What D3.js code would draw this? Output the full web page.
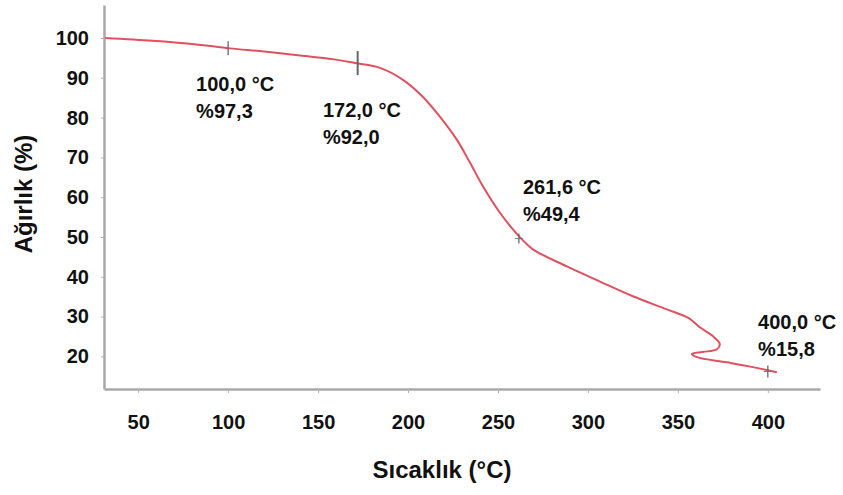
<!DOCTYPE html>
<html>
<head>
<meta charset="utf-8">
<script src="https://cdn.jsdelivr.net/npm/d3@7"></script>
<style>
  body { margin: 0; background: #fff; }
  text { font-family: "Liberation Sans", Arial, sans-serif; font-weight: bold; fill: #111; }
</style>
</head>
<body>
<div id="chart"></div>
<script>
// TGA curve (temperature °C, weight %)
const temps = [31.7, 58, 80, 101, 120, 140, 158, 170.6, 184.4, 197.2, 208.3, 217.8, 227.2, 234.4, 241.7, 251.1, 258.3, 263.3, 269.4, 288.3, 306.7, 325, 343.9, 356, 362.2, 369.4, 373.3, 371.7, 363.9, 357.8, 360.6, 377.2, 391.7, 405];
const weights = [100, 99.3, 98.5, 97.4, 96.6, 95.6, 94.7, 93.7, 92.5, 89.5, 85.2, 80.2, 74.4, 68.7, 62.7, 56.1, 51.9, 49.4, 46.9, 42.6, 38.8, 35.1, 31.8, 29.6, 27.3, 25.1, 23.1, 21.8, 21.1, 20.6, 19.8, 18.5, 17.3, 16.0];

// annotated points
const noteTemps = [100, 172, 261.6, 400];
const noteWeights = [97.4, 93.7, 49.6, 16.2];
const noteLine1 = ['100,0 °C', '172,0 °C', '261,6 °C', '400,0 °C'];
const noteLine2 = ['%97,3', '%92,0', '%49,4', '%15,8'];
const noteAt = [[82.2, 86.6], [152.7, 80.2], [263.9, 60.8], [394.6, 26.9]]; // label anchor (°C, %)

const xTicks = [50, 100, 150, 200, 250, 300, 350, 400];
const yTicks = [20, 30, 40, 50, 60, 70, 80, 90, 100];

const W = 843, H = 495;
const svg = d3.select('#chart').append('svg')
  .attr('width', W).attr('height', H);

const x = d3.scaleLinear().domain([31, 429]).range([104, 820]);
const y = d3.scaleLinear().domain([11.8, 108.3]).range([389, 5]);

// axes
const xAxis = svg.append('g')
  .attr('transform', 'translate(0,389)')
  .call(d3.axisBottom(x).tickValues(xTicks).tickSize(4).tickPadding(22).tickSizeOuter(0));
const yAxis = svg.append('g')
  .attr('transform', 'translate(104,0)')
  .call(d3.axisLeft(y).tickValues(yTicks).tickSize(3).tickPadding(9).tickSizeOuter(0));

[xAxis, yAxis].forEach(function (g) {
  g.select('.domain').attr('stroke', '#a8a8a8').attr('stroke-width', 2.5);
  g.selectAll('.tick line').attr('stroke', '#b0b0b0');
  g.selectAll('.tick text').attr('fill', '#111')
    .style('font-family', '"Liberation Sans", Arial, sans-serif')
    .style('font-weight', 'bold').style('font-size', '20px');
});
yAxis.selectAll('.tick text').attr('dx', '-3');

// curve
const data = temps.map((t, i) => ({ t: t, w: weights[i] }));
svg.append('path')
  .datum(data)
  .attr('fill', 'none')
  .attr('stroke', '#e0505f')
  .attr('stroke-width', 2)
  .attr('stroke-linejoin', 'round')
  .attr('d', d3.line()
    .x(d => x(d.t))
    .y(d => y(d.w))
    .curve(d3.curveCatmullRom.alpha(0.5)));

// markers on the curve
const markLen = [7, 12, 5, 6];
noteTemps.forEach(function (t, i) {
  svg.append('line')
    .attr('x1', x(t)).attr('x2', x(t))
    .attr('y1', y(noteWeights[i]) - markLen[i])
    .attr('y2', y(noteWeights[i]) + markLen[i])
    .attr('stroke', '#666')
    .attr('stroke-width', i === 1 ? 2 : 1.3);
  if (i >= 2) {
    svg.append('line')
      .attr('x1', x(t) - 4).attr('x2', x(t) + 4)
      .attr('y1', y(noteWeights[i])).attr('y2', y(noteWeights[i]))
      .attr('stroke', '#777').attr('stroke-width', 1);
  }
});

// annotation labels
noteAt.forEach(function (p, i) {
  const tx = svg.append('text')
    .attr('x', x(p[0])).attr('y', y(p[1]))
    .style('font-size', '20px');
  tx.append('tspan').text(noteLine1[i]);
  tx.append('tspan').attr('x', x(p[0])).attr('dy', 27).text(noteLine2[i]);
});

// axis titles
svg.append('text')
  .attr('x', 442).attr('y', 478)
  .attr('text-anchor', 'middle')
  .style('font-size', '24px')
  .text('Sıcaklık (°C)');

svg.append('text')
  .attr('transform', 'translate(32,194) rotate(-90)')
  .attr('text-anchor', 'middle')
  .style('font-size', '24px')
  .text('Ağırlık (%)');
</script>
</body>
</html>
